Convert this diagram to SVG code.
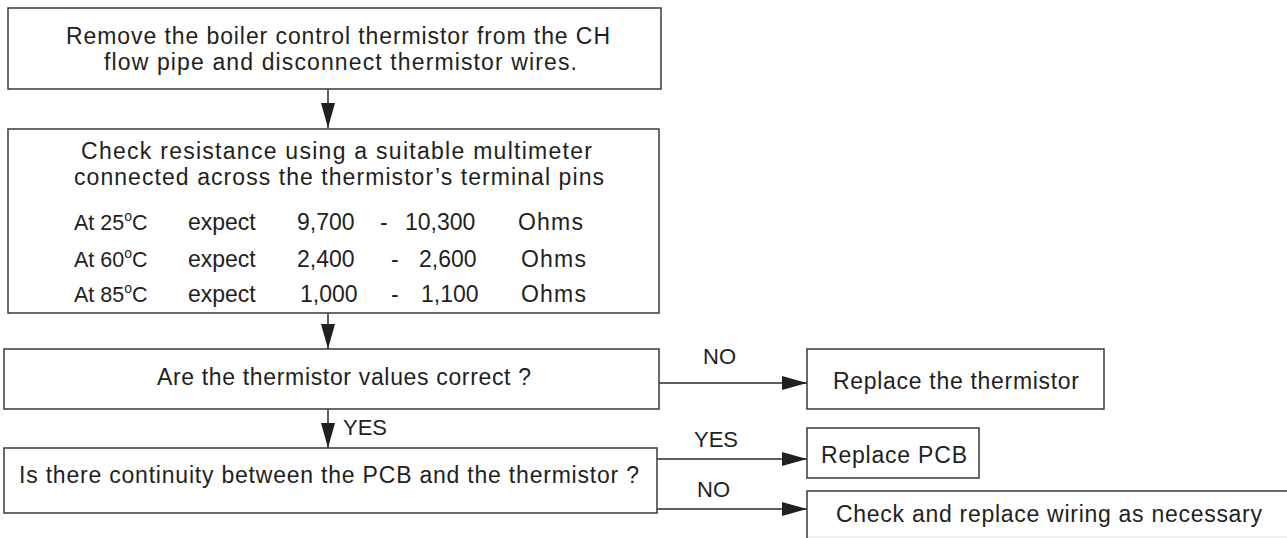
<svg xmlns="http://www.w3.org/2000/svg" width="1287" height="538" viewBox="0 0 1287 538">
<style>
.box{fill:#fff;stroke:#3a3a3a;stroke-width:1.5}
.t{font-family:"Liberation Sans",Arial,sans-serif;font-size:23px;fill:#231f20}
.at{font-size:21.5px}
.sup{font-size:14px}
.lbl{font-family:"Liberation Sans",Arial,sans-serif;font-size:22px;fill:#231f20}
.c{stroke:#2a2a2a;stroke-width:1.5;fill:none}
</style>
<defs>
<marker id="ah" markerUnits="userSpaceOnUse" markerWidth="26" markerHeight="16" refX="25" refY="7" orient="auto">
<path d="M0,0 L25,7 L0,14 z" fill="#231f20"/>
</marker>
</defs>
<rect width="1287" height="538" fill="#fff"/>
<g id="connectors">
<line class="c" x1="328" y1="89" x2="328" y2="128" marker-end="url(#ah)"/>
<line class="c" x1="328" y1="313" x2="328" y2="349" marker-end="url(#ah)"/>
<line class="c" x1="328" y1="409" x2="328" y2="448" marker-end="url(#ah)"/>
<line class="c" x1="659" y1="383" x2="807" y2="383" marker-end="url(#ah)"/>
<line class="c" x1="657" y1="459" x2="807" y2="459" marker-end="url(#ah)"/>
<line class="c" x1="657" y1="509" x2="807" y2="509" marker-end="url(#ah)"/>
<text class="lbl" x="343" y="435">YES</text>
<text class="lbl" x="703" y="364">NO</text>
<text class="lbl" x="694" y="447">YES</text>
<text class="lbl" x="697" y="497">NO</text>
</g>
<g id="n1">
<rect class="box" x="8" y="8" width="653" height="81"/>
<text class="t" x="66" y="44" textLength="544" lengthAdjust="spacing">Remove the boiler control thermistor from the CH</text>
<text class="t" x="104" y="70" textLength="473" lengthAdjust="spacing">flow pipe and disconnect thermistor wires.</text>
</g>
<g id="n2">
<rect class="box" x="8" y="129" width="651" height="184"/>
<text class="t" x="81" y="159" textLength="511" lengthAdjust="spacing">Check resistance using a suitable multimeter</text>
<text class="t" x="74" y="185" textLength="530" lengthAdjust="spacing">connected across the thermistor’s terminal pins</text>
<text class="t at" x="74" y="230">At 25<tspan class="sup" dy="-9">o</tspan><tspan dy="9">C</tspan></text>
<text class="t" x="188" y="230">expect</text>
<text class="t" x="297" y="230">9,700</text>
<text class="t" x="380" y="230">-</text>
<text class="t" x="405" y="230">10,300</text>
<text class="t" x="518" y="230" textLength="65" lengthAdjust="spacing">Ohms</text>
<text class="t at" x="74" y="267">At 60<tspan class="sup" dy="-9">o</tspan><tspan dy="9">C</tspan></text>
<text class="t" x="188" y="267">expect</text>
<text class="t" x="297" y="267">2,400</text>
<text class="t" x="391" y="267">-</text>
<text class="t" x="419" y="267">2,600</text>
<text class="t" x="521" y="267" textLength="65" lengthAdjust="spacing">Ohms</text>
<text class="t at" x="74" y="302">At 85<tspan class="sup" dy="-9">o</tspan><tspan dy="9">C</tspan></text>
<text class="t" x="188" y="302">expect</text>
<text class="t" x="300" y="302">1,000</text>
<text class="t" x="391" y="302">-</text>
<text class="t" x="421" y="302">1,100</text>
<text class="t" x="521" y="302" textLength="65" lengthAdjust="spacing">Ohms</text>
</g>
<g id="n3">
<rect class="box" x="4" y="349" width="655" height="60"/>
<text class="t" x="157" y="385" textLength="374" lengthAdjust="spacing">Are the thermistor values correct ?</text>
</g>
<g id="n4">
<rect class="box" x="807" y="349" width="297" height="60"/>
<text class="t" x="833" y="389" textLength="246" lengthAdjust="spacing">Replace the thermistor</text>
</g>
<g id="n5">
<rect class="box" x="4" y="448" width="653" height="65"/>
<text class="t" x="19" y="483" textLength="620" lengthAdjust="spacing">Is there continuity between the PCB and the thermistor ?</text>
</g>
<g id="n6">
<rect class="box" x="807" y="428" width="172" height="50"/>
<text class="t" x="821" y="463" textLength="146" lengthAdjust="spacing">Replace PCB</text>
</g>
<g id="n7">
<path d="M1290,491 L807,491 L807,538" fill="none" stroke="#3a3a3a" stroke-width="1.5"/>
<line x1="808" y1="537" x2="1287" y2="537" stroke="#e2e2e2" stroke-width="1"/>
<text class="t" x="836" y="522" textLength="426" lengthAdjust="spacing">Check and replace wiring as necessary</text>
</g>
</svg>
